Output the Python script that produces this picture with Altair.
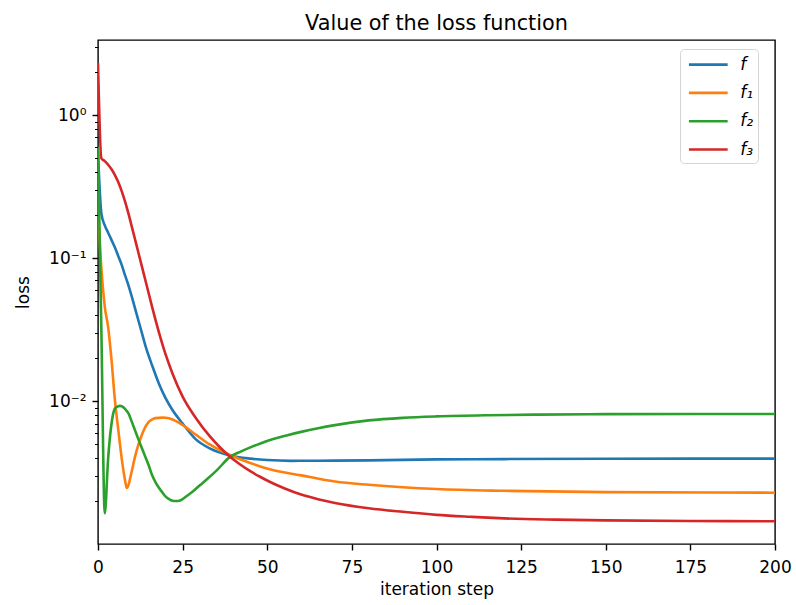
import altair as alt
import pandas as pd

# ---------------- data ----------------
series_names = ["f", "f₁", "f₂", "f₃"]
series_colors = ["#1f77b4", "#ff7f0e", "#2ca02c", "#d62728"]

f_steps = [0, 1, 2, 3, 4, 5, 6, 7, 8, 9, 10, 11, 12, 13, 14, 16, 18, 20, 22, 25,
           29, 33, 39, 45, 50, 57, 65, 80, 100, 120, 150, 200]
f_vals = [0.55, 0.205, 0.170, 0.151, 0.134, 0.119, 0.1035, 0.090, 0.0759, 0.0646,
          0.0537, 0.0442, 0.0363, 0.0299, 0.0245, 0.0178, 0.0133, 0.0105, 0.0087,
          0.0070, 0.0054, 0.0047, 0.00419, 0.00398, 0.00389, 0.00384, 0.00385,
          0.00387, 0.00393, 0.00395, 0.00397, 0.00398]

f1_steps = [0, 1, 2, 3, 4, 5, 6, 7, 8, 8.5, 9, 9.5, 10, 11, 12, 13, 14, 15, 16, 17,
            19, 20, 22, 24, 26, 29, 33, 39, 45, 51, 60, 70, 80, 90, 100, 120, 150, 200]
f1_vals = [0.22, 0.085, 0.046, 0.033, 0.0194, 0.0102, 0.0063, 0.0040, 0.0028,
           0.00248, 0.0026, 0.0029, 0.00327, 0.00416, 0.00504, 0.00587, 0.00663,
           0.00719, 0.00748, 0.00764, 0.0077, 0.00768, 0.00748, 0.00708, 0.00658,
           0.00583, 0.0050, 0.00422, 0.00371, 0.00334, 0.00304, 0.00275, 0.00261,
           0.00251, 0.00244, 0.00237, 0.00232, 0.0023]

f2_steps = [0, 1, 2, 3, 4, 5, 6, 6.5, 7, 8, 9, 10, 11, 12, 13, 14, 15, 16, 17, 18,
            19, 20, 21, 22, 23, 24, 25, 26, 28, 30, 32, 35, 39, 42, 45, 48, 52, 56,
            60, 65, 70, 80, 90, 100, 115, 130, 150, 200]
f2_vals = [0.6, 0.031, 0.00165, 0.0040, 0.0070, 0.0089, 0.00925, 0.0093, 0.00925,
           0.00885, 0.00824, 0.00719, 0.00622, 0.00538, 0.00469, 0.00409, 0.00356,
           0.00304, 0.00272, 0.00249, 0.00231, 0.00216, 0.00207, 0.00202, 0.00201,
           0.00202, 0.00207, 0.00216, 0.00234, 0.00258, 0.00283, 0.00328, 0.00409,
           0.00444, 0.00477, 0.00508, 0.00547, 0.0058, 0.00612, 0.00649, 0.00682,
           0.00736, 0.00767, 0.00785, 0.0080, 0.00808, 0.00814, 0.00817]

f3_steps = [0, 1, 2, 3, 4, 5, 6, 7, 8, 9, 10, 11, 12, 13, 14, 16, 18, 20, 22, 25,
            29, 33, 36, 39, 42, 45, 48, 51, 55, 60, 65, 70, 80, 90, 100, 110, 120,
            135, 150, 175, 200]
f3_vals = [2.32, 0.50, 0.478, 0.451, 0.419, 0.382, 0.340, 0.295, 0.249, 0.205,
           0.166, 0.134, 0.108, 0.0871, 0.0703, 0.0456, 0.0304, 0.0212, 0.01567,
           0.0108, 0.0076, 0.00571, 0.00478, 0.0041, 0.00362, 0.00325, 0.00296,
           0.00272, 0.00247, 0.00223, 0.00207, 0.00195, 0.00179, 0.00169, 0.00161,
           0.00156, 0.00152, 0.00149, 0.001472, 0.001459, 0.001452]

x_ticks = [0, 25, 50, 75, 100, 125, 150, 175, 200]
y_ticks = [0.002, 0.003, 0.004, 0.005, 0.006, 0.007, 0.008, 0.009,
           0.01, 0.02, 0.03, 0.04, 0.05, 0.06, 0.07, 0.08, 0.09,
           0.1, 0.2, 0.3, 0.4, 0.5, 0.6, 0.7, 0.8, 0.9,
           1, 2, 3]
x_domain = [0, 200]
y_domain = [0.001007, 3.357]

# ---------------- table ----------------
rows = []
for name, steps, vals in zip(series_names,
                             [f_steps, f1_steps, f2_steps, f3_steps],
                             [f_vals, f1_vals, f2_vals, f3_vals]):
    for s, v in zip(steps, vals):
        rows.append({"series": name, "step": s, "loss": v})
df = pd.DataFrame(rows)

FONT = "DejaVu Sans"
major = "abs(log(datum.value)/LN10 - round(log(datum.value)/LN10)) < 0.000001"
label_expr = ("abs(datum.value - 1) < 1e-9 ? '10⁰' : "
              "abs(datum.value - 0.1) < 1e-9 ? '10⁻¹' : "
              "abs(datum.value - 0.01) < 1e-9 ? '10⁻²' : ''")

chart = alt.Chart(df).mark_line(strokeWidth=2.6, interpolate="monotone", clip=True).encode(
    x=alt.X("step:Q",
            scale=alt.Scale(domain=x_domain, nice=False, zero=False),
            axis=alt.Axis(values=x_ticks, title="iteration step", grid=False, domain=False,
                          tickSize=6, tickWidth=1.4, tickColor="black",
                          labelFont=FONT, labelFontSize=17, labelColor="black",
                          labelBaseline="alphabetic", labelPadding=22,
                          labelFlush=False, labelOverlap=False,
                          titleFont=FONT, titleFontSize=17, titleFontWeight="normal",
                          titleColor="black", titleBaseline="alphabetic", titleY=50.5)),
    y=alt.Y("loss:Q",
            scale=alt.Scale(type="log", domain=y_domain, nice=False),
            axis=alt.Axis(values=y_ticks, labelExpr=label_expr, title="loss",
                          grid=False, domain=False,
                          tickSize={"condition": {"test": major, "value": 6}, "value": 3.5},
                          tickWidth={"condition": {"test": major, "value": 1.4}, "value": 1.0},
                          tickColor="black",
                          labelFont=FONT, labelFontSize=17, labelColor="black",
                          labelPadding=6, labelFlush=False, labelOverlap=False,
                          titleFont=FONT, titleFontSize=17, titleFontWeight="normal",
                          titleColor="black", titleAngle=270, titleBaseline="alphabetic",
                          titleAlign="center", titleX=-70, titleY=252)),
    color=alt.Color("series:N",
                    scale=alt.Scale(domain=series_names, range=series_colors),
                    legend=alt.Legend(title=None, orient="none", legendX=582, legendY=9,
                                      symbolType="M-2,0H2", symbolSize=375,
                                      symbolStrokeWidth=2.6, symbolOffset=12.7,
                                      labelFont=FONT, labelFontSize=17,
                                      labelFontStyle="italic", labelColor="black",
                                      labelOffset=21, padding=4.6, rowPadding=9.3,
                                      strokeColor="#d5d5d5",
                                      fillColor="rgba(255,255,255,0.8)",
                                      cornerRadius=4)),
    order=alt.Order("step:Q"),
).properties(
    width=677, height=504,
    title=alt.TitleParams("Value of the loss function", font=FONT, fontSize=20.8,
                          fontWeight="normal", color="black", anchor="middle",
                          baseline="alphabetic", offset=-13, frame="group"),
    padding={"left": 98, "top": 40, "right": 21, "bottom": 61},
    autosize=alt.AutoSizeParams(type="none"),
    background="white",
).configure_view(stroke="black", strokeWidth=1.4)

chart.save("out.html", embed_options={"renderer": "svg", "actions": False})
